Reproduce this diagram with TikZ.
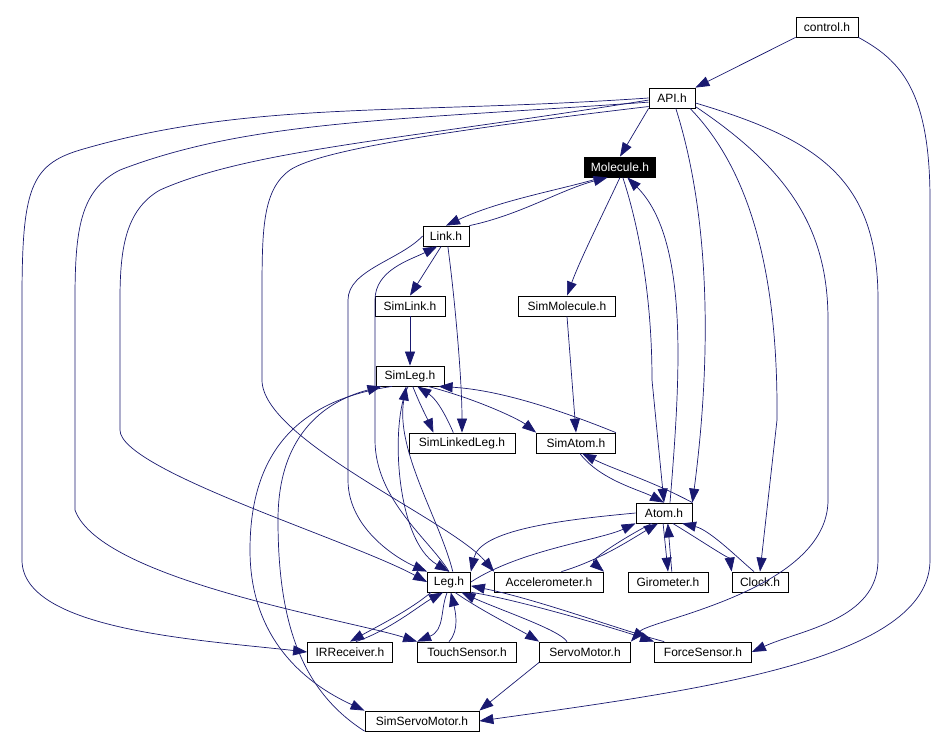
\documentclass[tikz,border=0pt]{standalone}
\usepackage{fontspec}
\setmainfont{Liberation Sans}
\usetikzlibrary{arrows.meta}
\definecolor{edge}{HTML}{191970}
\begin{document}
\begin{tikzpicture}[x=1pt,y=-1pt,
  box/.style={draw=black,fill=white,line width=0.8pt,minimum height=20pt,inner sep=0pt,font=\fontsize{12}{14}\selectfont},
  e/.style={draw=edge,line width=0.7pt,-{Triangle[length=14pt,width=10pt]}}]
\useasboundingbox[fill=white] (0,0) rectangle (948,748);
\node[box,minimum width=62pt] (ctrl) at (827,27) {control.h};
\node[box,minimum width=46pt] (api) at (672,98) {API.h};
\node[box,minimum width=71pt,fill=black,text=white] (mol) at (620,167) {Molecule.h};
\node[box,minimum width=46pt] (link) at (446,236) {Link.h};
\node[box,minimum width=70pt] (slink) at (410,306) {SimLink.h};
\node[box,minimum width=97pt] (smol) at (567,306) {SimMolecule.h};
\node[box,minimum width=68pt] (sleg) at (410,376) {SimLeg.h};
\node[box,minimum width=106pt] (sll) at (462,443) {SimLinkedLeg.h};
\node[box,minimum width=79pt] (satom) at (576,443) {SimAtom.h};
\node[box,minimum width=56pt] (atom) at (664,513) {Atom.h};
\node[box,minimum width=43pt] (leg) at (449,582) {Leg.h};
\node[box,minimum width=109pt] (acc) at (549,582) {Accelerometer.h};
\node[box,minimum width=80pt] (giro) at (668,582) {Girometer.h};
\node[box,minimum width=56pt] (clock) at (760,582) {Clock.h};
\node[box,minimum width=85pt] (ir) at (350,652) {IRReceiver.h};
\node[box,minimum width=99pt] (touch) at (467,652) {TouchSensor.h};
\node[box,minimum width=91pt] (servo) at (585,652) {ServoMotor.h};
\node[box,minimum width=97pt] (force) at (703,652) {ForceSensor.h};
\node[box,minimum width=114pt] (sservo) at (422,721) {SimServoMotor.h};

% control.h
\draw[e] (ctrl.south west) -- (api.north east);
\draw[e] (ctrl.south east) .. controls (900,60) and (930,90) .. (930,200) -- (930,560) .. controls (930,660) and (700,690) .. (sservo.east);
% API.h
\draw[e] (api.south west) -- (mol.north);
\draw[e] (api.-70) .. controls (705,200) and (715,330) .. (atom.north east);
\draw[e] (api.-30) .. controls (760,180) and (778,300) .. (777,420) -- (clock.north);
\draw[e] (api.-20) .. controls (790,170) and (828,230) .. (828,320) -- (828,500) .. controls (828,590) and (650,620) .. (servo.north east);
\draw[e] (api.-12) .. controls (820,140) and (878,180) .. (878,300) -- (878,560) .. controls (878,620) and (800,630) .. (force.east);
\draw[e] (api.west) .. controls (400,115) and (250,100) .. (80,150) .. controls (30,165) and (22,190) .. (22,300) -- (22,560) .. controls (22,630) and (200,640) .. (ir.west);
\draw[e] (api.-170) .. controls (400,120) and (250,120) .. (120,170) .. controls (80,190) and (75,230) .. (75,300) -- (75,510) .. controls (100,580) and (350,620) .. (touch.north west);
\draw[e] (api.-175) .. controls (400,140) and (250,150) .. (160,190) .. controls (125,210) and (120,250) .. (120,300) -- (120,430) .. controls (120,470) and (350,540) .. (leg.west);
\draw[e] (api.-160) .. controls (450,130) and (320,150) .. (290,170) .. controls (262,190) and (262,230) .. (262,300) -- (262,380) .. controls (262,440) and (450,520) .. (acc.north west);
% Molecule
\draw[e] (mol.-150) .. controls (560,190) and (500,200) .. (link.north);
\draw[e] (link.north east) .. controls (520,215) and (560,190) .. (mol.-140);
\draw[e] (mol.south) .. controls (600,220) and (580,260) .. (smol.north);
\draw[e] (mol.-75) .. controls (640,230) and (652,300) .. (652,380) -- (atom.north);
\draw[e] (atom.60) .. controls (680,380) and (690,240) .. (mol.-55);
% Link
\draw[e] (link.-115) -- (slink.north);
\draw[e] (link.-80) .. controls (455,300) and (462,380) .. (sll.north);
\draw[e] (link.west) .. controls (400,260) and (348,270) .. (348,300) -- (348,480) .. controls (348,530) and (400,560) .. (leg.north west);
\draw[e] (leg.north) .. controls (430,540) and (375,500) .. (375,440) -- (375,300) .. controls (375,270) and (410,260) .. (link.-130);
% SimLink, SimMolecule
\draw[e] (slink.south) -- (sleg.north);
\draw[e] (smol.south) -- (satom.north);
% SimLeg
\draw[e] (sleg.-75) .. controls (420,405) and (428,420) .. (sll.160);
\draw[e] (sll.130) .. controls (448,420) and (438,400) .. (sleg.-55);
\draw[e] (sleg.-30) .. controls (480,400) and (520,420) .. (satom.north west);
\draw[e] (satom.north east) .. controls (560,410) and (500,390) .. (sleg.-20);
\draw[e] (sleg.-100) .. controls (390,420) and (395,540) .. (leg.north);
\draw[e] (leg.70) .. controls (440,520) and (395,450) .. (sleg.-110);
\draw[e] (sleg.-150) .. controls (300,400) and (250,450) .. (250,550) .. controls (250,650) and (320,690) .. (sservo.north west);
\draw[e] (sservo.-170) .. controls (300,690) and (278,620) .. (278,520) .. controls (278,430) and (330,400) .. (sleg.-160);
% SimAtom
\draw[e] (satom.-70) .. controls (600,480) and (640,490) .. (atom.north);
\draw[e] (atom.north east) .. controls (650,480) and (615,470) .. (satom.-60);
% Atom
\draw[e] (atom.west) .. controls (560,520) and (480,530) .. (leg.north east);
\draw[e] (leg.east) .. controls (520,550) and (600,540) .. (atom.-160);
\draw[e] (atom.-140) .. controls (620,540) and (590,560) .. (acc.north east);
\draw[e] (acc.40) .. controls (600,560) and (630,540) .. (atom.-120);
\draw[e] (atom.-95) -- (giro.north);
\draw[e] (giro.70) -- (atom.-70);
\draw[e] (atom.-50) .. controls (700,540) and (730,560) .. (clock.north west);
\draw[e] (clock.120) .. controls (740,560) and (710,530) .. (atom.-30);
% Leg
\draw[e] (leg.-150) .. controls (410,610) and (380,625) .. (ir.north);
\draw[e] (ir.60) .. controls (390,630) and (420,605) .. (leg.-120);
\draw[e] (leg.-100) .. controls (440,610) and (445,630) .. (touch.north west);
\draw[e] (touch.150) .. controls (460,630) and (455,610) .. (leg.-80);
\draw[e] (leg.-60) .. controls (480,610) and (520,630) .. (servo.north west);
\draw[e] (servo.150) .. controls (560,630) and (500,610) .. (leg.-40);
\draw[e] (leg.-25) .. controls (520,600) and (620,630) .. (force.north west);
\draw[e] (force.165) .. controls (620,630) and (540,600) .. (leg.-10);
% ServoMotor
\draw[e] (servo.south west) -- (sservo.north east);
\end{tikzpicture}
\end{document}
